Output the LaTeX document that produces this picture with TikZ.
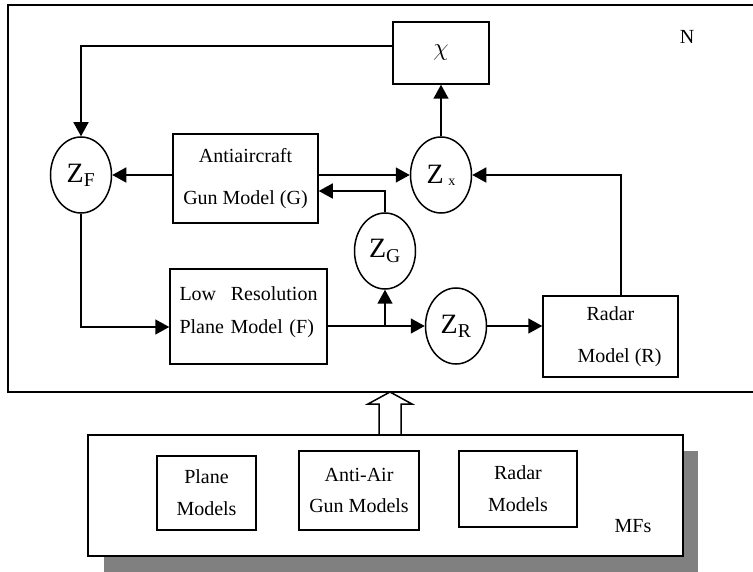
\documentclass[tikz,border=0pt]{standalone}
\usepackage{fontspec}
\setmainfont{Liberation Serif}
\usetikzlibrary{shapes.geometric,arrows.meta}
\def\hollowup{-- ++(0,-30) -- ++(-11,0) -- ++(22,-12) -- ++(22,12) -- ++(-11,0) -- ++(0,30)}
\tikzset{
  blk/.style={draw,line width=1.5pt,inner sep=0pt,align=center},
  zcirc/.style={draw,ellipse,line width=1.5pt,inner sep=0pt,minimum width=61pt,minimum height=76pt,font=\fontsize{28}{32}\selectfont},
  flow/.style={line width=1.5pt,-{Triangle[length=14pt,width=15pt]}},
}

\begin{document}
\begin{tikzpicture}[x=1pt,y=-1pt,font=\fontsize{20}{24}\selectfont]
\useasboundingbox (0,0) rectangle (753,572);
\draw[line width=1.5pt] (8,5) rectangle (775,392);
\node (nlab) at (687,37) {N};
\node[blk,minimum width=96pt,minimum height=62pt] (chi) at (441,53) {\fontsize{26}{26}\selectfont$\chi$};
\node[blk,minimum width=145pt,minimum height=89pt] (gun) at (245.5,178.5) {Antiaircraft\\[18pt]Gun Model (G)};
\node[blk,minimum width=157pt,minimum height=95pt,text width=138pt,align=left] (plane) at (248.5,316.5) {Low\hfill Resolution\\[9pt]Plane Model (F)\\[-12pt]\mbox{}};
\node[blk,minimum width=135pt,minimum height=81pt] (radar) at (610.5,336.5) {Radar\\[18pt]\hspace*{18pt}Model (R)};
\node[zcirc] (zf) at (81,175) {Z\textsubscript{F}};
\node[zcirc] (zx) at (441,175) {Z\,\raisebox{-2pt}{\fontsize{14}{14}\selectfont x}};
\node[zcirc] (zg) at (385,251) {Z\textsubscript{G}};
\node[zcirc] (zr) at (456,326) {Z\textsubscript{R}};
\coordinate (fork) at (zg |- zr);
\draw[flow] ([yshift=7pt]chi.west) -| (zf.north);
\draw[flow] (gun.west |- zf) -- (zf.east);
\draw[flow] (gun.east |- zx) -- (zx.west);
\draw[flow] (zg.north) |- ([yshift=-12.5pt]gun.east);
\draw[flow] (zx.north) -- (chi.south);
\draw[flow] ([xshift=10.5pt]radar.north) |- (zx.east);
\draw[flow] (zf.south) |- ([yshift=-10.5pt]plane.west);
\draw[flow] (plane.east |- zr) -- (zr.west);
\draw[flow] (fork) -- (zg.south);
\draw[flow] (zr.east) -- (zr.east -| radar.west);
\fill[gray] (104,451) rectangle (698,572);
\node[blk,fill=white,minimum width=595pt,minimum height=121pt] (mfs) at (385.5,495.5) {};
\node (mflab) at (633,526) {MFs};
\node[blk,minimum width=99pt,minimum height=74pt] (planes) at (206.5,493) {Plane\\[8pt]Models};
\node[blk,minimum width=120pt,minimum height=79pt] (guns) at (359,490.5) {Anti-Air\\[7pt]Gun Models};
\node[blk,minimum width=118pt,minimum height=76pt] (radars) at (518,489) {Radar\\[8pt]Models};
\draw[line width=1.5pt] (379,434) \hollowup;
\end{tikzpicture}
\end{document}
